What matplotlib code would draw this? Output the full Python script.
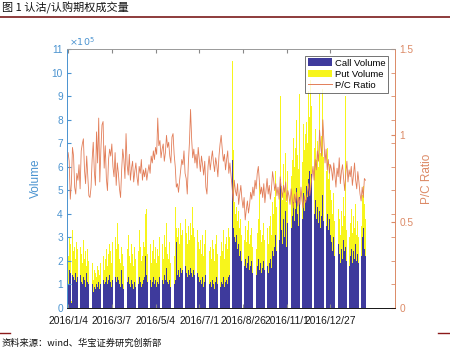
import numpy as np
import matplotlib
matplotlib.use('Agg')
import matplotlib.pyplot as plt
from matplotlib.patches import Patch
from matplotlib.lines import Line2D

plt.rcParams['font.family'] = ['Liberation Sans', 'Noto Sans CJK SC', 'DejaVu Sans']

# tick dates (every 40 trading days)
dates = ['2016/1/4', '2016/3/7', '2016/5/4', '2016/7/1', '2016/8/26', '2016/11/1', '2016/12/27']

# call volume, 1e4 contracts
call_vol = [
    10, 16, 15, 2, 14, 13, 12, 15, 11, 13,
    12, 14, 11, 10, 13, 12, 9, 15, 11, 10,
    9, 8, 10, 7, 9, 8, 10, 9, 11, 8,
    10, 9, 12, 10, 11, 13, 10, 12, 14,
    11, 9, 12, 10, 13, 11, 13, 12, 10, 9,
    16, 10, 8, 12, 9, 11, 13, 10, 9, 12,
    10, 8, 11, 9, 12, 10, 13, 11, 9, 10, 12,
    13, 22, 14, 11, 10, 12, 9, 11, 13, 10,
    12, 9, 11, 10, 13, 11, 12, 10, 14, 12,
    17, 11, 10, 12, 9, 11, 13, 10, 12, 28,
    14, 16, 13, 17, 15, 16, 14, 18, 15, 13,
    16, 14, 17, 15, 13, 16, 14, 12, 15, 13,
    11, 12, 10, 13, 9, 11, 14, 17, 12, 10,
    11, 9, 12, 10, 8, 11, 13, 10, 12, 9,
    11, 10, 13, 9, 11, 12, 10, 13,
    14, 18, 63, 34, 30, 28, 31, 25, 27, 22,
    24, 20, 23, 18, 21, 17, 19, 22, 16, 18,
    20, 15, 17, 19, 14, 18, 21, 16, 19, 15,
    17, 20, 16, 22, 18, 15, 19, 21, 17, 24,
    22, 26, 31, 24, 35, 29, 55, 33, 27, 38,
    30, 41, 26, 36, 44, 50, 34, 39, 45, 37,
    42, 51, 40, 35, 47, 43, 38, 49, 41, 46,
    52, 47, 55, 58, 50, 57, 44, 40, 46, 38,
    43, 36, 41, 34, 39, 48, 37, 42, 35, 40,
    33, 38, 31,
    28, 24, 30, 22, 26, 20, 27, 23, 19, 25,
    21, 29, 24, 26, 20, 23, 18, 22, 25, 19,
    24, 21, 27, 20, 23, 19, 26, 22, 30, 34,
    25, 22,
]

# call + put volume (top of the yellow bar), 1e4 contracts
total_vol = [
    22, 30, 27, 3, 33, 24, 26, 21, 28, 25,
    20, 26, 23, 19, 29, 21, 24, 18, 25, 20,
    17, 14, 19, 12, 16, 15, 13, 18, 16, 14,
    19, 17, 22, 16, 21, 25, 18, 23, 27,
    24, 19, 28, 22, 30, 25, 36, 27, 21, 19,
    26, 23, 18, 29, 20, 25, 31, 22, 19, 27,
    23, 18, 26, 21, 30, 24, 33, 26, 20, 22, 28,
    26, 40, 42, 23, 20, 27, 19, 24, 29, 21,
    26, 19, 25, 22, 30, 24, 27, 21, 31, 26,
    36, 23, 21, 28, 19, 25, 31, 22, 43, 34,
    30, 34, 27, 36, 31, 33, 28, 38, 32, 27,
    35, 29, 36, 31, 43, 34, 30, 26, 33, 28,
    25, 29, 23, 31, 22, 27, 33, 49, 28, 24,
    26, 21, 29, 25, 20, 27, 31, 23, 29, 22,
    28, 24, 33, 21, 27, 30, 25, 34,
    30, 36, 105, 67, 45, 40, 43, 37, 41, 34,
    38, 31, 36, 29, 35, 28, 33, 37, 27, 31,
    34, 26, 30, 35, 25, 32, 38, 53, 33, 28,
    31, 36, 29, 40, 34, 27, 35, 39, 31, 45,
    40, 47, 58, 43, 55, 49, 90, 52, 46, 61,
    50, 66, 45, 58, 70, 77, 56, 63, 72, 60,
    68, 80, 65, 59, 91, 71, 62, 78, 67, 74,
    79, 70, 92, 81, 97, 86, 74, 68, 76, 63,
    71, 60, 91, 66, 73, 93, 64, 70, 58, 68,
    55, 61, 50,
    46, 40, 49, 37, 44, 34, 42, 38, 31, 41,
    35, 47, 39, 90, 33, 38, 30, 36, 42, 32,
    39, 34, 44, 31, 37, 30, 41, 35, 48, 52,
    44, 38,
]

pc_ratio = [
    0.90, 0.85, 0.63, 0.72, 0.93, 0.88, 0.70, 0.66, 0.78, 0.74,
    0.83, 0.69, 0.91, 0.95, 0.98, 0.80, 0.72, 0.88, 0.77, 0.65,
    0.64, 0.70, 0.86, 0.96, 0.79, 0.71, 1.02, 0.84, 1.10, 0.73,
    0.92, 1.06, 1.08, 0.81, 0.94, 0.75, 0.68, 0.86, 0.92,
    0.88, 0.95, 0.82, 0.76, 0.90, 0.71, 0.84, 0.78, 0.69, 0.64,
    0.80, 0.92, 0.86, 0.75, 1.01, 0.83, 0.77, 0.89, 0.74, 0.81,
    0.85, 0.73, 0.79, 0.84, 0.76, 0.71, 0.82, 0.78, 0.86, 0.74, 0.80,
    0.76, 0.81, 0.74, 0.79, 0.83, 0.78, 0.88, 0.84, 0.91, 0.86,
    0.93, 0.89, 1.10, 0.94, 0.97, 0.87, 0.92, 0.95, 0.85, 0.90,
    1.00, 0.93, 0.96, 0.88, 0.84, 0.99, 1.01, 0.89, 0.82, 0.70,
    0.72, 0.67, 0.74, 0.80, 0.86, 0.83, 0.91, 0.78, 0.75, 0.66,
    0.84, 0.96, 1.15, 0.98, 0.87, 0.92, 0.84, 0.89, 0.81, 0.93,
    0.86, 0.79, 0.88, 0.83, 0.77, 0.85, 0.70, 0.66, 0.82, 0.88,
    0.80, 0.86, 0.91, 0.84, 0.79, 0.87, 0.83, 0.76, 0.88, 0.95,
    1.00, 0.92, 0.85, 0.89, 0.80, 0.86, 0.91, 0.78,
    0.84, 0.77, 0.70, 0.62, 0.74, 0.68, 0.65, 0.72, 0.60, 0.66,
    0.71, 0.63, 0.58, 0.64, 0.51, 0.57, 0.62, 0.55, 0.60, 0.67,
    0.63, 0.70, 0.65, 0.74, 0.69, 0.78, 0.82, 0.73, 0.66, 0.70,
    0.64, 0.72, 0.61, 0.68, 0.75, 0.66, 0.71, 0.63, 0.69, 0.79,
    0.74, 0.68, 0.72, 0.65, 0.70, 0.63, 0.76, 0.69, 0.64, 0.71,
    0.67, 0.73, 0.62, 0.68, 0.65, 0.60, 0.69, 0.63, 0.58, 0.66,
    0.61, 0.67, 0.59, 0.64, 0.60, 0.70, 0.62, 0.58, 0.65, 0.61,
    0.63, 0.67, 0.72, 0.65, 0.70, 0.76, 0.82, 0.74, 0.86, 0.80,
    0.91, 0.85, 1.03, 0.94, 0.88, 1.09, 0.97, 0.84, 0.92, 0.80,
    0.86, 0.78, 0.83,
    0.80, 0.74, 0.84, 0.77, 0.70, 0.81, 0.76, 0.87, 0.72, 0.79,
    0.83, 0.75, 0.68, 0.78, 0.85, 0.73, 0.80, 0.76, 0.82, 0.71,
    0.77, 0.84, 0.74, 0.69, 0.79, 0.73, 0.66, 0.62, 0.70, 0.64,
    0.75, 0.74,
]

BLUE = '#3e3a9c'
YELLOW = '#f7f51c'
ORANGE = '#e27d58'
AXBLUE = '#4a93d0'
AXORANGE = '#dc8a66'

n = len(call_vol)
x = np.arange(1, n + 1)
call = np.array(call_vol) / 10.0     # in 1e5
total = np.array(total_vol) / 10.0

fig = plt.figure(figsize=(4.5, 3.51), dpi=100)
ax = fig.add_axes([67 / 450, 43 / 351, 328 / 450, 259 / 351])

ax.bar(x, total, width=0.8, color=YELLOW, linewidth=0)
ax.bar(x, call, width=0.8, color=BLUE, linewidth=0)

ax.set_xlim(0, 300)
ax.set_ylim(0, 11)
ax.set_xticks(np.arange(1, 242, 40))
ax.set_xticklabels(dates)
ax.set_yticks(range(12))
ax.tick_params(axis='x', direction='in', top=True, length=3, labelsize=7.4,
               colors='#888888', labelcolor='#1a1a1a', pad=6)
ax.tick_params(axis='y', direction='in', right=False, length=3, labelsize=7.3,
               colors=AXBLUE, pad=3)
ax.set_ylabel('Volume', color=AXBLUE, fontsize=8.5, labelpad=7)
ax.text(0.005, 1.005, r'$\times10^5$', transform=ax.transAxes, color=AXBLUE,
        fontsize=6.8, ha='left', va='bottom')

ax.spines['left'].set_color(AXBLUE)
ax.spines['top'].set_color('#9a9a9a')
ax.spines['bottom'].set_color('#9a9a9a')
ax.spines['right'].set_color(AXORANGE)
for s in ax.spines.values():
    s.set_linewidth(0.6)

ax2 = ax.twinx()
ax2.plot(x, pc_ratio, color=ORANGE, lw=0.6)
ax2.set_ylim(0, 1.5)
ax2.set_yticks([0, 0.5, 1, 1.5])
ax2.set_yticklabels(['0', '0.5', '1', '1.5'])
ax2.set_yticks(np.arange(12) * 1.5 / 11, minor=True)
ax2.tick_params(axis='y', which='both', direction='in', length=3, labelsize=7.3,
                colors=AXORANGE, pad=3)
ax2.set_ylabel('P/C Ratio', color=AXORANGE, fontsize=8.5, labelpad=6)
ax2.spines['right'].set_color(AXORANGE)
ax2.spines['left'].set_color(AXBLUE)
ax2.spines['top'].set_color('#9a9a9a')
for s in ax2.spines.values():
    s.set_linewidth(0.6)

handles = [Patch(facecolor=BLUE, edgecolor='none'),
           Patch(facecolor=YELLOW, edgecolor='none'),
           Line2D([], [], color=ORANGE, lw=0.7)]
leg = ax2.legend(handles, ['Call Volume', 'Put Volume', 'P/C Ratio'],
                 loc='upper right', fontsize=6.8, frameon=True, fancybox=False,
                 borderaxespad=0.7, handlelength=2.6, handleheight=0.9,
                 handletextpad=0.3, labelspacing=0.2, borderpad=0.3)
leg.get_frame().set_edgecolor('#333333')
leg.get_frame().set_linewidth(0.6)

# header and footer of the report page
cjk = ['Noto Sans CJK SC', 'DejaVu Sans']
fig.text(2 / 450, 1 - 8 / 351, '图 1 认沽/认购期权成交量', family=cjk, fontsize=8,
         ha='left', va='center', color='#111111')
fig.add_artist(Line2D([0, 1], [1 - 17 / 351, 1 - 17 / 351], color='#7a1a1a', lw=1.2))
fig.add_artist(Line2D([0, 10 / 450], [1 - 333 / 351, 1 - 333 / 351], color='#8b1a1a', lw=1.0))
fig.add_artist(Line2D([438 / 450, 1], [1 - 333 / 351, 1 - 333 / 351], color='#8b1a1a', lw=1.0))
fig.text(2 / 450, 1 - 343 / 351, '资料来源：wind、华宝证券研究创新部', family=cjk,
         fontsize=6.7, ha='left', va='center', color='#111111')

fig.savefig('out.png', dpi=100)
